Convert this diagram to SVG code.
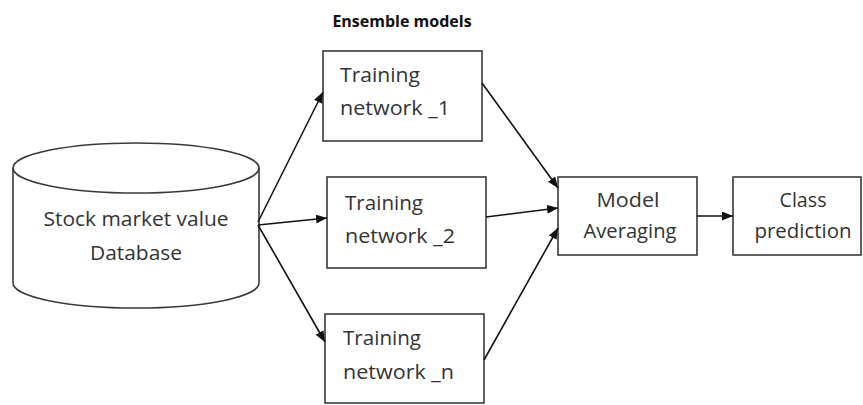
<svg xmlns="http://www.w3.org/2000/svg" width="863" height="405" viewBox="0 0 863 405">
<style>
.shape{fill:#fff;stroke:#3a3a3a;stroke-width:1.6}
.t{font-family:"Open Sans","Liberation Sans",sans-serif;font-size:20px;fill:#333}
.c{text-anchor:middle}
.title{font-family:"Open Sans","Liberation Sans",sans-serif;font-size:16px;font-weight:bold;fill:#111}
.link{stroke:#111;stroke-width:1.6;fill:none;marker-end:url(#arr)}
</style>
<defs>
<marker id="arr" markerUnits="userSpaceOnUse" markerWidth="12" markerHeight="10" refX="11" refY="4.5" orient="auto">
<path d="M0,0 L11,4.5 L0,9 z" fill="#111"/>
</marker>
</defs>
<rect width="863" height="405" fill="#fff"/>
<text class="title c" x="402" y="27">Ensemble models</text>
<g id="database">
<path class="shape" d="M13,168 L13,283 A123,25 0 0 0 259,283 L259,168"/>
<ellipse class="shape" cx="136" cy="168" rx="123" ry="25"/>
<text class="t c" x="136" y="226" textLength="185" lengthAdjust="spacingAndGlyphs">Stock market value</text>
<text class="t c" x="136" y="260" textLength="92" lengthAdjust="spacingAndGlyphs">Database</text>
</g>
<g id="train1">
<rect class="shape" x="323" y="51" width="159" height="90"/>
<text class="t" x="340" y="82" textLength="80" lengthAdjust="spacingAndGlyphs">Training</text>
<text class="t" x="340" y="115" textLength="110" lengthAdjust="spacingAndGlyphs">network _1</text>
</g>
<g id="train2">
<rect class="shape" x="327" y="177" width="159" height="91"/>
<text class="t" x="345" y="210" textLength="78" lengthAdjust="spacingAndGlyphs">Training</text>
<text class="t" x="345" y="243" textLength="110" lengthAdjust="spacingAndGlyphs">network _2</text>
</g>
<g id="trainn">
<rect class="shape" x="325" y="314" width="159" height="89"/>
<text class="t" x="343" y="345" textLength="78" lengthAdjust="spacingAndGlyphs">Training</text>
<text class="t" x="343" y="379" textLength="111" lengthAdjust="spacingAndGlyphs">network _n</text>
</g>
<g id="avg">
<rect class="shape" x="558" y="177" width="139" height="78"/>
<text class="t c" x="628" y="207" textLength="63" lengthAdjust="spacingAndGlyphs">Model</text>
<text class="t c" x="630" y="238" textLength="93" lengthAdjust="spacingAndGlyphs">Averaging</text>
</g>
<g id="cls">
<rect class="shape" x="733" y="177" width="128" height="78"/>
<text class="t c" x="803" y="207" textLength="47" lengthAdjust="spacingAndGlyphs">Class</text>
<text class="t c" x="803" y="238" textLength="97" lengthAdjust="spacingAndGlyphs">prediction</text>
</g>
<g id="connectors">
<line class="link" x1="258" y1="222" x2="323" y2="92"/>
<line class="link" x1="258" y1="225" x2="327" y2="218"/>
<line class="link" x1="258" y1="225" x2="325" y2="342"/>
<line class="link" x1="482" y1="83" x2="558" y2="188"/>
<line class="link" x1="486" y1="217" x2="558" y2="208"/>
<line class="link" x1="484" y1="360" x2="558" y2="228"/>
<line class="link" x1="697" y1="216" x2="733" y2="216"/>
</g>
</svg>
